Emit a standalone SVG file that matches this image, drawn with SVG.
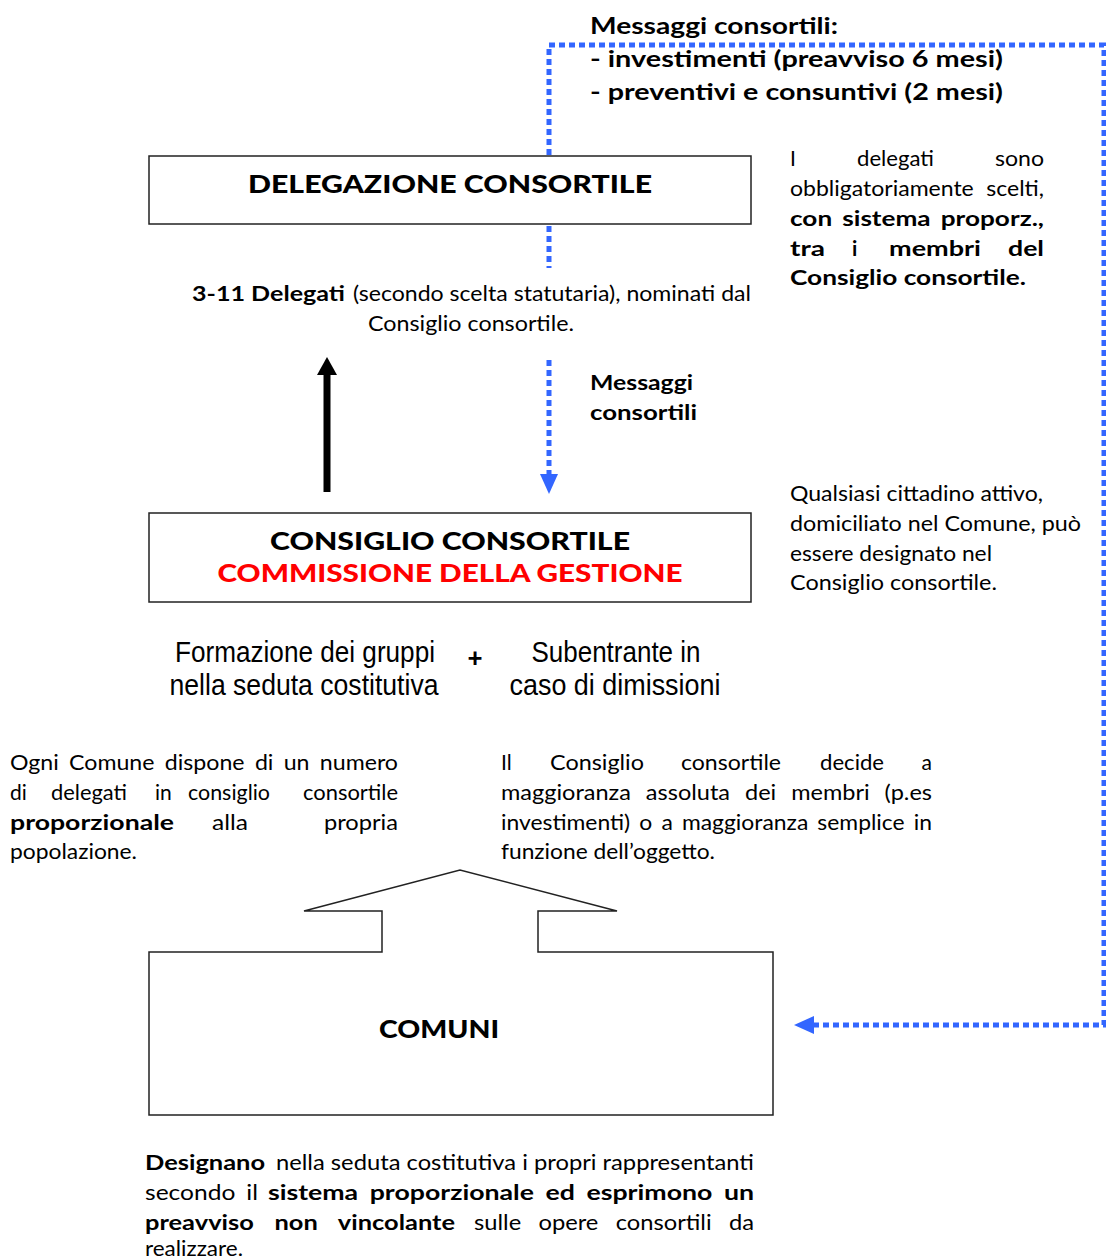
<svg xmlns="http://www.w3.org/2000/svg" width="1106" height="1260" viewBox="0 0 1106 1260">
<defs>
<style>
.t{font-family:Lato,"Open Sans","DejaVu Sans",sans-serif;font-size:21px;fill:#000}
.b{font-weight:700}
.h{font-family:Lato,"Open Sans","DejaVu Sans",sans-serif;font-size:24px;font-weight:900;fill:#000}
.m{font-family:Lato,"Open Sans","DejaVu Sans",sans-serif;font-size:22px;font-weight:700;fill:#000}
.n{font-family:"Liberation Sans",Arial,sans-serif;font-size:29px;fill:#000}
.box{fill:#fff;stroke:#222;stroke-width:1.5}
.dot{fill:none;stroke:#3366ff;stroke-width:5;stroke-dasharray:6 4}
.blk{fill:none;stroke:#000;stroke-width:7}
</style>
<marker id="ab" markerUnits="userSpaceOnUse" viewBox="0 0 20 18" refX="0" refY="9" markerWidth="20" markerHeight="18" orient="auto"><path d="M0,0 L20,9 L0,18 z" fill="#3366ff"/></marker>
<marker id="ak" markerUnits="userSpaceOnUse" viewBox="0 0 18 20" refX="0" refY="10" markerWidth="18" markerHeight="20" orient="auto"><path d="M0,0 L18,10 L0,20 z" fill="#000"/></marker>
</defs>
<rect width="1106" height="1260" fill="#fff"/>

<g id="connectors">
<path class="dot" d="M549,155 V45 H1104 V1025 H814" marker-end="url(#ab)"/>
<path class="dot" d="M549,226 V268"/>
<path class="dot" d="M549,360 V474" marker-end="url(#ab)"/>
<path class="blk" d="M327,492 V375" marker-end="url(#ak)"/>
</g>

<g id="messaggi-top">
<text class="m" x="590" y="34" textLength="248" lengthAdjust="spacingAndGlyphs">Messaggi consortili:</text>
<text class="m" x="590" y="67" textLength="413" lengthAdjust="spacingAndGlyphs">- investimenti (preavviso 6 mesi)</text>
<text class="m" x="590" y="100" textLength="413" lengthAdjust="spacingAndGlyphs">- preventivi e consuntivi (2 mesi)</text>
</g>

<g id="delegazione">
<rect class="box" x="149" y="156" width="602" height="68"/>
<text class="h" x="450" y="193" text-anchor="middle" textLength="404" lengthAdjust="spacingAndGlyphs">DELEGAZIONE CONSORTILE</text>
</g>

<g id="delegati-note">
<text class="t" x="790" y="166">I</text>
<text class="t" x="857" y="166" textLength="77" lengthAdjust="spacingAndGlyphs">delegati</text>
<text class="t" x="995" y="166" textLength="49" lengthAdjust="spacingAndGlyphs">sono</text>
<text class="t" x="790" y="196" textLength="254" lengthAdjust="spacingAndGlyphs" word-spacing="6">obbligatoriamente scelti,</text>
<text class="t b" x="790" y="226" textLength="254" lengthAdjust="spacingAndGlyphs" word-spacing="3">con sistema proporz.,</text>
<text class="t b" x="790" y="256" textLength="35" lengthAdjust="spacingAndGlyphs">tra</text>
<text class="t b" x="852" y="256">i</text>
<text class="t b" x="889" y="256" textLength="92" lengthAdjust="spacingAndGlyphs">membri</text>
<text class="t b" x="1008" y="256" textLength="36" lengthAdjust="spacingAndGlyphs">del</text>
<text class="t b" x="790" y="285" textLength="236" lengthAdjust="spacingAndGlyphs">Consiglio consortile.</text>
</g>

<g id="delegati-count">
<text class="t b" x="192" y="301" textLength="153" lengthAdjust="spacingAndGlyphs">3-11 Delegati</text>
<text class="t" x="353" y="301" textLength="398" lengthAdjust="spacingAndGlyphs">(secondo scelta statutaria), nominati dal</text>
<text class="t" x="471" y="331" text-anchor="middle" textLength="206" lengthAdjust="spacingAndGlyphs">Consiglio consortile.</text>
</g>

<g id="messaggi-mid">
<text class="t b" x="590" y="390" textLength="103" lengthAdjust="spacingAndGlyphs">Messaggi</text>
<text class="t b" x="590" y="420" textLength="107" lengthAdjust="spacingAndGlyphs">consortili</text>
</g>

<g id="cittadino-note">
<text class="t" x="790" y="501" textLength="253" lengthAdjust="spacingAndGlyphs">Qualsiasi cittadino attivo,</text>
<text class="t" x="790" y="531" textLength="291" lengthAdjust="spacingAndGlyphs">domiciliato nel Comune, può</text>
<text class="t" x="790" y="561" textLength="202" lengthAdjust="spacingAndGlyphs">essere designato nel</text>
<text class="t" x="790" y="590" textLength="207" lengthAdjust="spacingAndGlyphs">Consiglio consortile.</text>
</g>

<g id="consiglio">
<rect class="box" x="149" y="513" width="602" height="89"/>
<text class="h" x="450" y="550" text-anchor="middle" textLength="360" lengthAdjust="spacingAndGlyphs">CONSIGLIO CONSORTILE</text>
<text class="h" x="450" y="582" text-anchor="middle" textLength="465" lengthAdjust="spacingAndGlyphs" style="fill:#ff0000">COMMISSIONE DELLA GESTIONE</text>
</g>

<g id="formazione">
<text class="n" x="305" y="662" text-anchor="middle" textLength="260" lengthAdjust="spacingAndGlyphs">Formazione dei gruppi</text>
<text class="n" x="304" y="695" text-anchor="middle" textLength="269" lengthAdjust="spacingAndGlyphs">nella seduta costitutiva</text>
<text class="m" x="475" y="667" text-anchor="middle" style="font-size:26px;font-weight:900">+</text>
<text class="n" x="616" y="662" text-anchor="middle" textLength="169" lengthAdjust="spacingAndGlyphs">Subentrante in</text>
<text class="n" x="615" y="695" text-anchor="middle" textLength="211" lengthAdjust="spacingAndGlyphs">caso di dimissioni</text>
</g>

<g id="comune-note">
<text class="t" x="10" y="770" textLength="388" lengthAdjust="spacingAndGlyphs" word-spacing="4">Ogni Comune dispone di un numero</text>
<text class="t" x="10" y="800">di</text>
<text class="t" x="51" y="800" textLength="76" lengthAdjust="spacingAndGlyphs">delegati</text>
<text class="t" x="155" y="800">in</text>
<text class="t" x="188" y="800" textLength="82" lengthAdjust="spacingAndGlyphs">consiglio</text>
<text class="t" x="303" y="800" textLength="95" lengthAdjust="spacingAndGlyphs">consortile</text>
<text class="t b" x="10" y="830" textLength="164" lengthAdjust="spacingAndGlyphs">proporzionale</text>
<text class="t" x="212" y="830" textLength="36" lengthAdjust="spacingAndGlyphs">alla</text>
<text class="t" x="324" y="830" textLength="74" lengthAdjust="spacingAndGlyphs">propria</text>
<text class="t" x="10" y="859" textLength="127" lengthAdjust="spacingAndGlyphs">popolazione.</text>
</g>

<g id="decide-note">
<text class="t" x="501" y="770">Il</text>
<text class="t" x="550" y="770" textLength="94" lengthAdjust="spacingAndGlyphs">Consiglio</text>
<text class="t" x="681" y="770" textLength="100" lengthAdjust="spacingAndGlyphs">consortile</text>
<text class="t" x="820" y="770" textLength="64" lengthAdjust="spacingAndGlyphs">decide</text>
<text class="t" x="932" y="770" text-anchor="end">a</text>
<text class="t" x="501" y="800" textLength="431" lengthAdjust="spacingAndGlyphs" word-spacing="8">maggioranza assoluta dei membri (p.es</text>
<text class="t" x="501" y="830" textLength="431" lengthAdjust="spacingAndGlyphs" word-spacing="3">investimenti) o a maggioranza semplice in</text>
<text class="t" x="501" y="859" textLength="214" lengthAdjust="spacingAndGlyphs">funzione dell’oggetto.</text>
</g>

<g id="comuni">
<path class="box" d="M149,952 H382 V911 H304 L460,870 L617,911 H538 V952 H773 V1115 H149 Z"/>
<text class="h" x="439" y="1038" text-anchor="middle" textLength="120" lengthAdjust="spacingAndGlyphs">COMUNI</text>
</g>

<g id="designano-note">
<text class="t b" x="145" y="1170" textLength="120" lengthAdjust="spacingAndGlyphs">Designano</text>
<text class="t" x="276" y="1170" textLength="478" lengthAdjust="spacingAndGlyphs">nella seduta costitutiva i propri rappresentanti</text>
<text class="t" x="145" y="1200" textLength="113" lengthAdjust="spacingAndGlyphs" word-spacing="4">secondo il</text>
<text class="t b" x="268" y="1200" textLength="486" lengthAdjust="spacingAndGlyphs" word-spacing="4">sistema proporzionale ed esprimono un</text>
<text class="t b" x="145" y="1230" textLength="310" lengthAdjust="spacingAndGlyphs" word-spacing="12">preavviso non vincolante</text>
<text class="t" x="474" y="1230" textLength="280" lengthAdjust="spacingAndGlyphs" word-spacing="10">sulle opere consortili da</text>
<text class="t" x="145" y="1256" textLength="98" lengthAdjust="spacingAndGlyphs">realizzare.</text>
</g>
</svg>
